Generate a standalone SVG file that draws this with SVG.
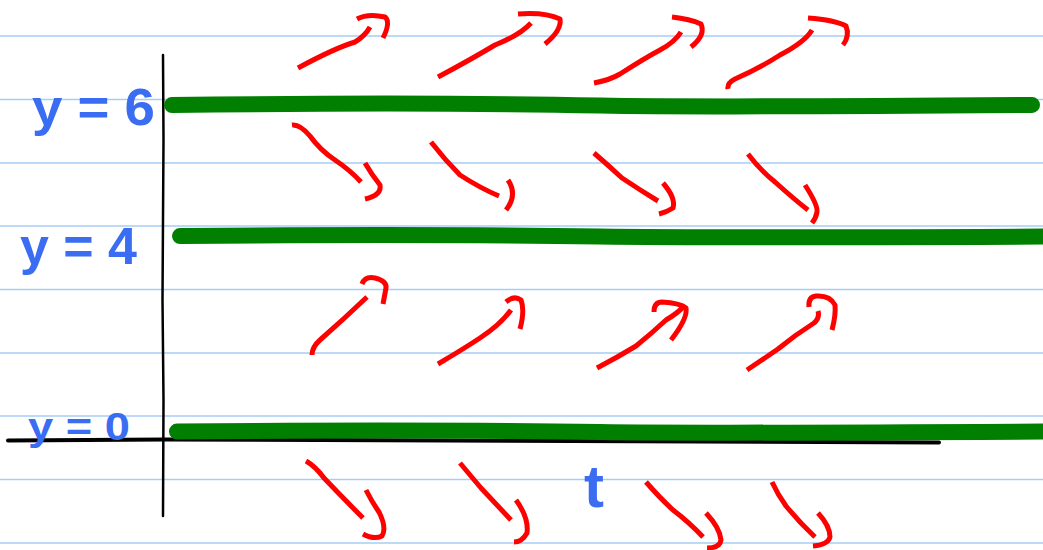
<svg xmlns="http://www.w3.org/2000/svg" width="1043" height="550" viewBox="0 0 1043 550">
<style>
.rule{stroke:#a6cdf6;stroke-width:1.6;fill:none}
.axis{stroke:#000;fill:none;stroke-linecap:round;stroke-linejoin:round}
.sol{stroke:#007f00;stroke-width:16;fill:none;stroke-linecap:round}
.arr{stroke:#ff0000;stroke-width:5;fill:none;stroke-linecap:butt;stroke-linejoin:round}
.lbl{fill:#3a6df2;font-family:"Liberation Sans",Arial,sans-serif;font-weight:bold}
</style>
<rect width="1043" height="550" fill="#fff"/>
<g id="ruling">
<line class="rule" x1="0" y1="36" x2="1043" y2="36"/>
<line class="rule" x1="0" y1="99.5" x2="1043" y2="99.5"/>
<line class="rule" x1="0" y1="163" x2="1043" y2="163"/>
<line class="rule" x1="0" y1="226" x2="1043" y2="226"/>
<line class="rule" x1="0" y1="289.5" x2="1043" y2="289.5"/>
<line class="rule" x1="0" y1="353" x2="1043" y2="353"/>
<line class="rule" x1="0" y1="416" x2="1043" y2="416"/>
<line class="rule" x1="0" y1="479.5" x2="1043" y2="479.5"/>
<line class="rule" x1="0" y1="543" x2="1043" y2="543"/>
</g>
<g id="axes">
<path class="axis" stroke-width="2.5" d="M163,55 L163.5,140 L162.5,300 L163.5,400 L163,516"/>
<path class="axis" stroke-width="4" d="M8,440.5 L165,439.5 Q550,442 939,442.5"/>
</g>
<g id="solutions">
<path id="sol-6" class="sol" d="M172,105 Q420,102 600,105.5 Q700,107.5 1032,105"/>
<path id="sol-4" class="sol" d="M180,236 Q420,234 600,236.5 Q700,238 1050,236.5"/>
<path id="sol-0" class="sol" d="M177,431.5 Q420,429.5 600,432 Q700,433.5 1050,431.5"/>
</g>
<g id="labels">
<text id="lbl-y6" class="lbl" x="32" y="125" font-size="52" textLength="123" lengthAdjust="spacingAndGlyphs">y = 6</text>
<text id="lbl-y4" class="lbl" x="20" y="264" font-size="52" textLength="117" lengthAdjust="spacingAndGlyphs">y = 4</text>
<text id="lbl-y0" class="lbl" x="28" y="440" font-size="38" textLength="102" lengthAdjust="spacingAndGlyphs">y = 0</text>
<text id="lbl-t" class="lbl" x="584" y="507" font-size="60">t</text>
</g>
<g id="direction-field">
<path class="arr" d="M298,68 Q335,48 355,42 Q365,36 370,27"/>
<path class="arr" d="M357,19 Q368,13 385,17 Q391,22 383,38"/>
<path class="arr" d="M438,77 Q470,60 495,45 Q520,35 531,23"/>
<path class="arr" d="M518,14 Q545,12 560,19 Q562,30 545,44"/>
<path class="arr" d="M594,83 Q610,80 620,74 Q645,58 660,50 Q675,42 681,32"/>
<path class="arr" d="M672,17 Q690,19 701,24 Q706,35 691,47"/>
<path class="arr" d="M728,89 Q727,83 735,79 Q760,68 780,55 Q805,42 812,30"/>
<path class="arr" d="M808,18 Q835,20 846,26 Q850,36 843,45"/>

<path class="arr" d="M292,125 Q300,124 310,136 Q320,150 335,160 Q350,170 361,182"/>
<path class="arr" d="M365,163 Q372,175 380,185 Q382,195 365,199"/>
<path class="arr" d="M431,142 Q445,160 460,175 Q480,188 499,196"/>
<path class="arr" d="M508,180 Q518,195 506,210"/>
<path class="arr" d="M594,153 Q608,165 622,178 Q640,190 658,201"/>
<path class="arr" d="M663,183 Q676,198 673,208 Q667,212 659,214"/>
<path class="arr" d="M748,154 Q760,170 775,182 Q795,200 808,210"/>
<path class="arr" d="M805,185 Q818,205 817,212 Q816,218 812,223"/>

<path class="arr" d="M312,355 Q312,347 320,340 Q345,318 367,297"/>
<path class="arr" d="M362,284 Q365,276 375,278 Q387,281 386,288 L383,304"/>
<path class="arr" d="M438,364 Q465,348 480,338 Q500,325 511,310"/>
<path class="arr" d="M506,302 Q514,295 521,300 Q525,310 520,329"/>
<path class="arr" d="M597,368 Q618,357 636,346 Q652,333 666,320 Q678,313 684,306"/>
<path class="arr" d="M654,312 Q654,302 662,302 Q680,303 686,308 Q688,318 671,340"/>
<path class="arr" d="M747,370 Q762,360 778,349 Q795,335 814,323 Q820,318 818,311"/>
<path class="arr" d="M809,307 Q808,297 816,296 Q830,295 835,305 Q836,315 832,330"/>

<path class="arr" d="M306,461 Q315,466 324,478 Q345,500 363,518"/>
<path class="arr" d="M366,490 Q372,502 379,512 Q387,528 382,536 Q374,540 363,534"/>
<path class="arr" d="M460,463 Q470,475 481,488 Q497,505 511,520"/>
<path class="arr" d="M516,500 Q529,518 527,533 Q522,542 514,542"/>
<path class="arr" d="M646,482 Q660,498 673,510 Q690,523 703,537"/>
<path class="arr" d="M706,513 Q720,528 721,540 Q720,548 707,548"/>
<path class="arr" d="M772,482 Q778,495 786,506 Q800,523 815,537"/>
<path class="arr" d="M818,513 Q830,526 830,537 Q828,545 813,546"/>
</g>
</svg>
